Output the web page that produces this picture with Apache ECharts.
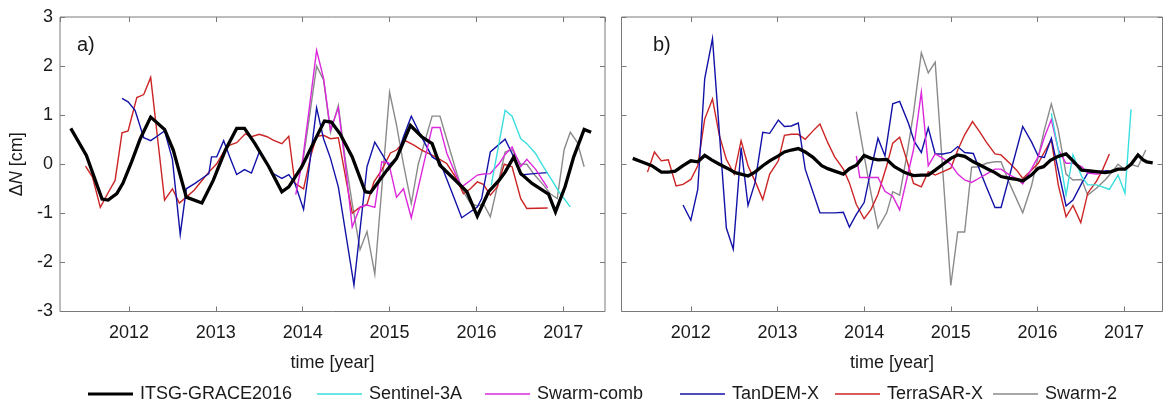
<!DOCTYPE html>
<html><head><meta charset="utf-8">
<script src="https://cdn.jsdelivr.net/npm/echarts@6/dist/echarts.min.js"></script>
<style>html,body{margin:0;padding:0;background:#fff}#c{width:1164px;height:403px}</style>
</head><body><div id="c"></div><script>
// ---- data: [decimal year, ΔN (cm)] ----
const seriesNames = ['ITSG-GRACE2016','Sentinel-3A','Swarm-comb','TanDEM-X','TerraSAR-X','Swarm-2'];
const yTicks = [-3,-2,-1,0,1,2,3];
const xTickYears = [2012,2013,2014,2015,2016,2017];

// panel a)
const aGrace = [[2011.33,0.73],[2011.51,0.18],[2011.69,-0.71],[2011.76,-0.73],[2011.86,-0.60],[2011.93,-0.39],[2012.03,0.05],[2012.13,0.52],[2012.25,0.96],[2012.41,0.71],[2012.51,0.29],[2012.66,-0.67],[2012.84,-0.79],[2012.97,-0.33],[2013.11,0.29],[2013.24,0.73],[2013.33,0.73],[2013.45,0.42],[2013.61,-0.05],[2013.76,-0.56],[2013.84,-0.46],[2013.99,-0.05],[2014.12,0.42],[2014.25,0.88],[2014.33,0.86],[2014.43,0.62],[2014.57,0.15],[2014.72,-0.56],[2014.78,-0.58],[2014.83,-0.46],[2014.97,-0.12],[2015.08,0.12],[2015.24,0.79],[2015.37,0.56],[2015.49,0.42],[2015.58,-0.02],[2015.76,-0.33],[2015.89,-0.56],[2016.01,-1.06],[2016.14,-0.56],[2016.26,-0.33],[2016.33,-0.16],[2016.43,0.15],[2016.51,-0.19],[2016.64,-0.39],[2016.83,-0.61],[2016.91,-0.97],[2017.02,-0.46],[2017.12,0.15],[2017.24,0.71],[2017.32,0.65]];
const aSentinel = [[2016.17,-0.43],[2016.33,1.10],[2016.41,0.98],[2016.51,0.52],[2016.58,0.42],[2016.68,0.22],[2016.77,-0.05],[2016.87,-0.33],[2016.95,-0.56],[2017.08,-0.87]];
const aSwarmComb = [[2013.92,-0.62],[2014.00,0.10],[2014.08,1.20],[2014.16,2.32],[2014.24,1.75],[2014.32,0.70],[2014.41,1.15],[2014.49,0.00],[2014.57,-1.28],[2014.66,-0.87],[2014.74,-0.83],[2014.83,-0.88],[2014.91,0.05],[2014.99,0.03],[2015.08,-0.67],[2015.16,-0.50],[2015.25,-1.09],[2015.49,0.75],[2015.58,0.75],[2015.66,0.22],[2015.76,-0.20],[2015.83,-0.46],[2015.93,-0.33],[2016.01,-0.22],[2016.08,-0.20],[2016.16,-0.19],[2016.26,0.01],[2016.33,0.20],[2016.41,0.35],[2016.51,-0.05],[2016.58,0.10],[2016.68,-0.10],[2016.82,-0.48]];
const aTandem = [[2011.92,1.34],[2011.99,1.27],[2012.07,1.10],[2012.17,0.54],[2012.25,0.48],[2012.34,0.59],[2012.41,0.68],[2012.50,0.10],[2012.59,-1.43],[2012.66,-0.50],[2012.76,-0.39],[2012.84,-0.29],[2012.92,-0.19],[2012.95,0.15],[2013.01,0.15],[2013.09,0.48],[2013.16,0.15],[2013.24,-0.21],[2013.33,-0.11],[2013.41,-0.18],[2013.50,0.25],[2013.59,0.00],[2013.66,-0.19],[2013.76,-0.29],[2013.84,-0.21],[2013.91,-0.39],[2014.01,-0.92],[2014.09,0.15],[2014.16,1.15],[2014.24,0.52],[2014.32,0.12],[2014.41,-0.46],[2014.59,-2.46],[2014.74,-0.05],[2014.83,0.45],[2014.99,-0.02],[2015.08,0.12],[2015.16,0.56],[2015.25,0.98],[2015.35,0.62],[2015.49,0.15],[2015.58,0.05],[2015.74,-0.67],[2015.83,-1.09],[2016.01,-0.87],[2016.06,-0.70],[2016.16,0.25],[2016.33,0.51],[2016.41,0.22],[2016.51,-0.22],[2016.66,-0.19],[2016.82,-0.17]];
const aTerra = [[2011.50,-0.04],[2011.58,-0.26],[2011.67,-0.88],[2011.76,-0.58],[2011.84,-0.33],[2011.92,0.64],[2011.99,0.68],[2012.09,1.36],[2012.17,1.42],[2012.25,1.77],[2012.41,-0.73],[2012.50,-0.50],[2012.58,-0.79],[2012.66,-0.67],[2012.75,-0.53],[2012.84,-0.33],[2012.92,-0.16],[2013.01,0.01],[2013.09,0.25],[2013.16,0.39],[2013.24,0.44],[2013.34,0.62],[2013.41,0.56],[2013.50,0.61],[2013.59,0.56],[2013.66,0.49],[2013.76,0.42],[2013.84,0.57],[2013.91,-0.39],[2014.01,-0.50],[2014.09,0.15],[2014.16,0.57],[2014.24,0.59],[2014.32,0.52],[2014.41,0.54],[2014.57,-1.00],[2014.64,-0.90],[2014.74,-0.82],[2014.82,-0.36],[2014.91,-0.12],[2015.01,0.23],[2015.08,0.29],[2015.18,0.48],[2015.28,0.39],[2015.37,0.29],[2015.47,0.20],[2015.56,0.12],[2015.66,0.01],[2015.76,-0.26],[2015.85,-0.60],[2015.93,-0.50],[2016.01,-0.36],[2016.08,-0.41],[2016.16,-0.63],[2016.24,-0.46],[2016.32,0.00],[2016.41,-0.05],[2016.51,-0.70],[2016.58,-0.90],[2016.82,-0.89]];
const aSwarm2 = [[2013.99,-0.10],[2014.08,1.00],[2014.16,2.00],[2014.24,1.72],[2014.32,0.65],[2014.41,1.20],[2014.49,0.10],[2014.57,-0.80],[2014.66,-1.74],[2014.74,-1.37],[2014.83,-2.24],[2015.00,1.47],[2015.08,0.80],[2015.16,0.00],[2015.25,-0.80],[2015.33,0.00],[2015.49,0.98],[2015.58,0.98],[2015.66,0.50],[2015.76,-0.10],[2015.83,-0.50],[2015.93,-0.80],[2016.01,-0.85],[2016.08,-0.80],[2016.16,-1.07],[2016.26,-0.30],[2016.33,0.25],[2016.41,0.30],[2016.51,0.00],[2016.58,0.00],[2016.66,-0.20],[2016.76,-0.40],[2016.85,-0.60],[2016.93,-0.70],[2017.01,0.30],[2017.08,0.65],[2017.16,0.45],[2017.24,-0.05]];

// panel b)
const bGrace = [[2011.33,0.12],[2011.43,0.05],[2011.55,-0.03],[2011.66,-0.16],[2011.74,-0.16],[2011.82,-0.14],[2011.91,-0.03],[2012.00,0.07],[2012.08,0.05],[2012.16,0.18],[2012.24,0.09],[2012.33,0.00],[2012.43,-0.09],[2012.51,-0.17],[2012.58,-0.20],[2012.66,-0.24],[2012.74,-0.16],[2012.83,-0.03],[2012.91,0.07],[2013.01,0.17],[2013.08,0.25],[2013.16,0.29],[2013.24,0.32],[2013.32,0.25],[2013.41,0.14],[2013.51,-0.03],[2013.58,-0.09],[2013.66,-0.14],[2013.76,-0.20],[2013.83,-0.09],[2013.91,-0.02],[2014.00,0.18],[2014.08,0.12],[2014.16,0.09],[2014.26,0.10],[2014.35,-0.05],[2014.47,-0.17],[2014.57,-0.23],[2014.66,-0.22],[2014.74,-0.22],[2014.82,-0.12],[2014.91,0.00],[2015.00,0.12],[2015.08,0.19],[2015.16,0.16],[2015.26,0.05],[2015.33,-0.01],[2015.43,-0.10],[2015.51,-0.17],[2015.58,-0.25],[2015.68,-0.29],[2015.76,-0.31],[2015.83,-0.34],[2015.93,-0.22],[2016.01,-0.08],[2016.07,-0.05],[2016.15,0.08],[2016.24,0.16],[2016.33,0.21],[2016.41,0.07],[2016.51,-0.12],[2016.58,-0.13],[2016.68,-0.15],[2016.78,-0.17],[2016.85,-0.15],[2016.93,-0.10],[2017.01,-0.10],[2017.08,0.00],[2017.16,0.19],[2017.22,0.09],[2017.26,0.05],[2017.33,0.03]];
const bSentinel = [[2016.16,1.04],[2016.24,0.30],[2016.33,-0.63],[2016.41,0.19],[2016.51,-0.25],[2016.58,-0.42],[2016.68,-0.42],[2016.83,-0.51],[2016.93,-0.22],[2017.01,-0.59],[2017.08,1.12]];
const bSwarmComb = [[2013.91,0.17],[2013.95,-0.27],[2014.08,-0.27],[2014.16,-0.27],[2014.24,-0.55],[2014.33,-0.65],[2014.41,-0.93],[2014.57,0.30],[2014.66,1.47],[2014.74,-0.03],[2014.82,0.21],[2014.91,0.12],[2015.00,0.00],[2015.08,-0.20],[2015.16,-0.32],[2015.24,-0.37],[2015.33,-0.28],[2015.41,-0.20],[2015.51,-0.10],[2015.58,-0.10],[2015.68,-0.22],[2015.76,-0.29],[2015.83,-0.40],[2015.93,-0.10],[2016.01,0.16],[2016.08,0.55],[2016.16,0.91],[2016.24,0.30],[2016.33,0.02],[2016.41,0.02],[2016.51,-0.05],[2016.58,-0.18],[2016.68,-0.20],[2016.78,-0.18]];
const bTandem = [[2011.91,-0.83],[2012.00,-1.14],[2012.08,-0.51],[2012.16,1.74],[2012.25,2.56],[2012.41,-1.30],[2012.49,-1.73],[2012.58,0.34],[2012.66,-0.84],[2012.74,-0.38],[2012.83,0.65],[2012.91,0.63],[2013.01,0.90],[2013.08,0.77],[2013.16,0.78],[2013.24,0.84],[2013.32,-0.10],[2013.49,-0.99],[2013.58,-0.99],[2013.66,-0.99],[2013.76,-0.98],[2013.83,-1.28],[2013.91,-1.02],[2014.00,-0.78],[2014.08,-0.10],[2014.16,0.53],[2014.24,0.17],[2014.33,1.23],[2014.41,1.28],[2014.51,0.84],[2014.58,0.46],[2014.66,0.24],[2014.74,0.74],[2014.82,0.21],[2014.91,0.21],[2015.00,0.24],[2015.08,0.36],[2015.16,0.24],[2015.26,0.22],[2015.33,-0.10],[2015.41,-0.46],[2015.51,-0.88],[2015.58,-0.88],[2015.83,0.77],[2015.93,0.46],[2016.01,0.16],[2016.08,0.14],[2016.16,0.53],[2016.33,-0.85],[2016.41,-0.73],[2016.51,-0.39],[2016.58,-0.18],[2016.68,-0.15],[2016.82,-0.13]];
const bTerra = [[2011.50,-0.16],[2011.58,0.25],[2011.66,0.07],[2011.74,0.09],[2011.83,-0.44],[2011.91,-0.41],[2012.00,-0.31],[2012.08,-0.03],[2012.16,0.92],[2012.25,1.33],[2012.33,0.58],[2012.41,0.10],[2012.50,-0.20],[2012.58,0.48],[2012.66,-0.03],[2012.75,-0.38],[2012.83,-0.72],[2012.91,-0.20],[2013.01,0.07],[2013.08,0.59],[2013.16,0.61],[2013.24,0.61],[2013.32,0.51],[2013.41,0.68],[2013.49,0.82],[2013.58,0.44],[2013.66,0.15],[2013.76,-0.10],[2013.83,-0.38],[2013.91,-0.82],[2014.00,-1.11],[2014.08,-0.92],[2014.16,-0.61],[2014.26,-0.03],[2014.33,0.43],[2014.41,0.55],[2014.49,0.10],[2014.57,-0.39],[2014.66,-0.46],[2014.74,-0.15],[2014.82,-0.22],[2014.91,-0.15],[2015.00,-0.08],[2015.08,0.29],[2015.16,0.60],[2015.25,0.87],[2015.33,0.67],[2015.41,0.45],[2015.51,0.21],[2015.58,0.19],[2015.68,0.02],[2015.76,-0.12],[2015.83,-0.29],[2015.93,-0.12],[2016.01,0.02],[2016.08,0.25],[2016.16,0.50],[2016.24,-0.42],[2016.33,-1.07],[2016.41,-0.84],[2016.50,-1.19],[2016.58,-0.59],[2016.68,-0.35],[2016.75,-0.12],[2016.83,0.21]];
const bSwarm2 = [[2013.91,1.07],[2014.00,0.17],[2014.08,-0.60],[2014.16,-1.30],[2014.26,-0.99],[2014.33,-0.56],[2014.41,-0.63],[2014.49,0.16],[2014.57,1.04],[2014.66,2.27],[2014.74,1.86],[2014.82,2.08],[2015.00,-2.47],[2015.08,-1.38],[2015.16,-1.38],[2015.24,-0.06],[2015.33,-0.05],[2015.41,0.02],[2015.51,0.05],[2015.58,0.05],[2015.68,-0.40],[2015.83,-0.99],[2015.93,-0.45],[2016.01,0.16],[2016.08,0.70],[2016.16,1.23],[2016.24,0.70],[2016.33,-0.20],[2016.41,-0.32],[2016.51,-0.31],[2016.58,-0.63],[2016.68,-0.49],[2016.78,-0.32],[2016.85,-0.18],[2016.93,0.00],[2017.01,-0.12],[2017.08,0.00],[2017.16,-0.05],[2017.25,0.29]];

// ---- styling ----
const FONT = '"Liberation Sans", Arial, Helvetica, sans-serif';
const TXT = '#1a1a1a';
const BOX = '#7a7a7a';
const colors = {'ITSG-GRACE2016':'#000000','Sentinel-3A':'#3adede','Swarm-comb':'#dc28dc','TanDEM-X':'#1212a8','TerraSAR-X':'#cc2424','Swarm-2':'#8a8a8a'};
const widths = {'ITSG-GRACE2016':3.3,'Sentinel-3A':1.4,'Swarm-comb':1.4,'TanDEM-X':1.4,'TerraSAR-X':1.4,'Swarm-2':1.4};

const panels = [
  {left:60, width:545, xmin:2011.206, xmax:2017.48, labels:true,
   data:{'ITSG-GRACE2016':aGrace,'Sentinel-3A':aSentinel,'Swarm-comb':aSwarmComb,'TanDEM-X':aTandem,'TerraSAR-X':aTerra,'Swarm-2':aSwarm2}},
  {left:621.5, width:541, xmin:2011.2, xmax:2017.443, labels:false,
   data:{'ITSG-GRACE2016':bGrace,'Sentinel-3A':bSentinel,'Swarm-comb':bSwarmComb,'TanDEM-X':bTandem,'TerraSAR-X':bTerra,'Swarm-2':bSwarm2}}
];

const grid = [], xAxis = [], yAxis = [], series = [];
const tick = {show:true, inside:true, length:5, lineStyle:{color:BOX, width:1}};
const noLine = {show:false, onZero:false};
const xFmt = v => { const r = Math.round(v); return (Math.abs(v - r) < 1e-6 && xTickYears.indexOf(r) >= 0) ? String(r) : ''; };

panels.forEach((p, i) => {
  grid.push({left:p.left, top:17, width:p.width, height:294.5, show:true, borderColor:BOX, borderWidth:1, backgroundColor:'#fff', containLabel:false});
  xAxis.push({type:'value', gridIndex:i, position:'bottom', min:p.xmin, max:p.xmax, minInterval:1, maxInterval:1,
    axisLine:noLine, axisTick:tick, splitLine:{show:false},
    axisLabel:{show:true, formatter:xFmt, color:TXT, fontFamily:FONT, fontSize:18, margin:13, showMinLabel:false, showMaxLabel:false},
    name:'time [year]', nameLocation:'middle', nameGap:43, nameTextStyle:{color:TXT, fontFamily:FONT, fontSize:18}});
  xAxis.push({type:'value', gridIndex:i, position:'top', min:p.xmin, max:p.xmax, minInterval:1, maxInterval:1,
    axisLine:noLine, axisTick:tick, splitLine:{show:false}, axisLabel:{show:false}});
  yAxis.push({type:'value', gridIndex:i, position:'left', min:yTicks[0], max:yTicks[yTicks.length-1], interval:1,
    axisLine:noLine, axisTick:tick, splitLine:{show:false},
    axisLabel:{show:p.labels, color:TXT, fontFamily:FONT, fontSize:18, margin:7},
    name: p.labels ? '{d|Δ}{n|N}{d| [cm]}' : '', nameLocation:'middle', nameGap:34,
    nameTextStyle:{color:TXT, fontFamily:FONT, fontSize:18, rich:{d:{fontFamily:FONT,fontSize:18,color:TXT}, n:{fontFamily:FONT,fontSize:18,fontStyle:'italic',color:TXT}}}});
  yAxis.push({type:'value', gridIndex:i, position:'right', min:yTicks[0], max:yTicks[yTicks.length-1], interval:1,
    axisLine:noLine, axisTick:tick, splitLine:{show:false}, axisLabel:{show:false}});
  const order = ['Swarm-2','TerraSAR-X','TanDEM-X','Swarm-comb','Sentinel-3A','ITSG-GRACE2016'];
  order.forEach(n => {
    series.push({type:'line', name:n, data:p.data[n], xAxisIndex:2*i, yAxisIndex:2*i, symbol:'none', showSymbol:false,
      lineStyle:{color:colors[n], width:widths[n], join:'miter'}, itemStyle:{color:colors[n]}, animation:false, silent:true, clip:true});
  });
});

const legendLefts = [88, 317, 485, 680, 835, 993];
const legend = seriesNames.map((n, i) => ({
  left: legendLefts[i], top: 385, itemWidth: 45, itemHeight: 16,
  data:[{name:n, icon: n === 'ITSG-GRACE2016' ? 'path://M0,6.5 L45,6.5 L45,9.5 L0,9.5 Z' : 'path://M0,7.2 L45,7.2 L45,8.8 L0,8.8 Z', itemStyle:{color:colors[n]}}],
  textStyle:{color:TXT, fontFamily:FONT, fontSize:18, padding:[0,0,0,2]}, selectedMode:false, padding:0
}));

const chart = echarts.init(document.getElementById('c'), null, {renderer:'canvas'});
chart.setOption({
  animation:false, backgroundColor:'#fff',
  grid, xAxis, yAxis, series, legend,
  graphic:[
    {type:'text', left:77, top:35, style:{text:'a)', font:'20px ' + FONT, fill:TXT}},
    {type:'text', left:653, top:35, style:{text:'b)', font:'20px ' + FONT, fill:TXT}}
  ]
});
</script></body></html>
